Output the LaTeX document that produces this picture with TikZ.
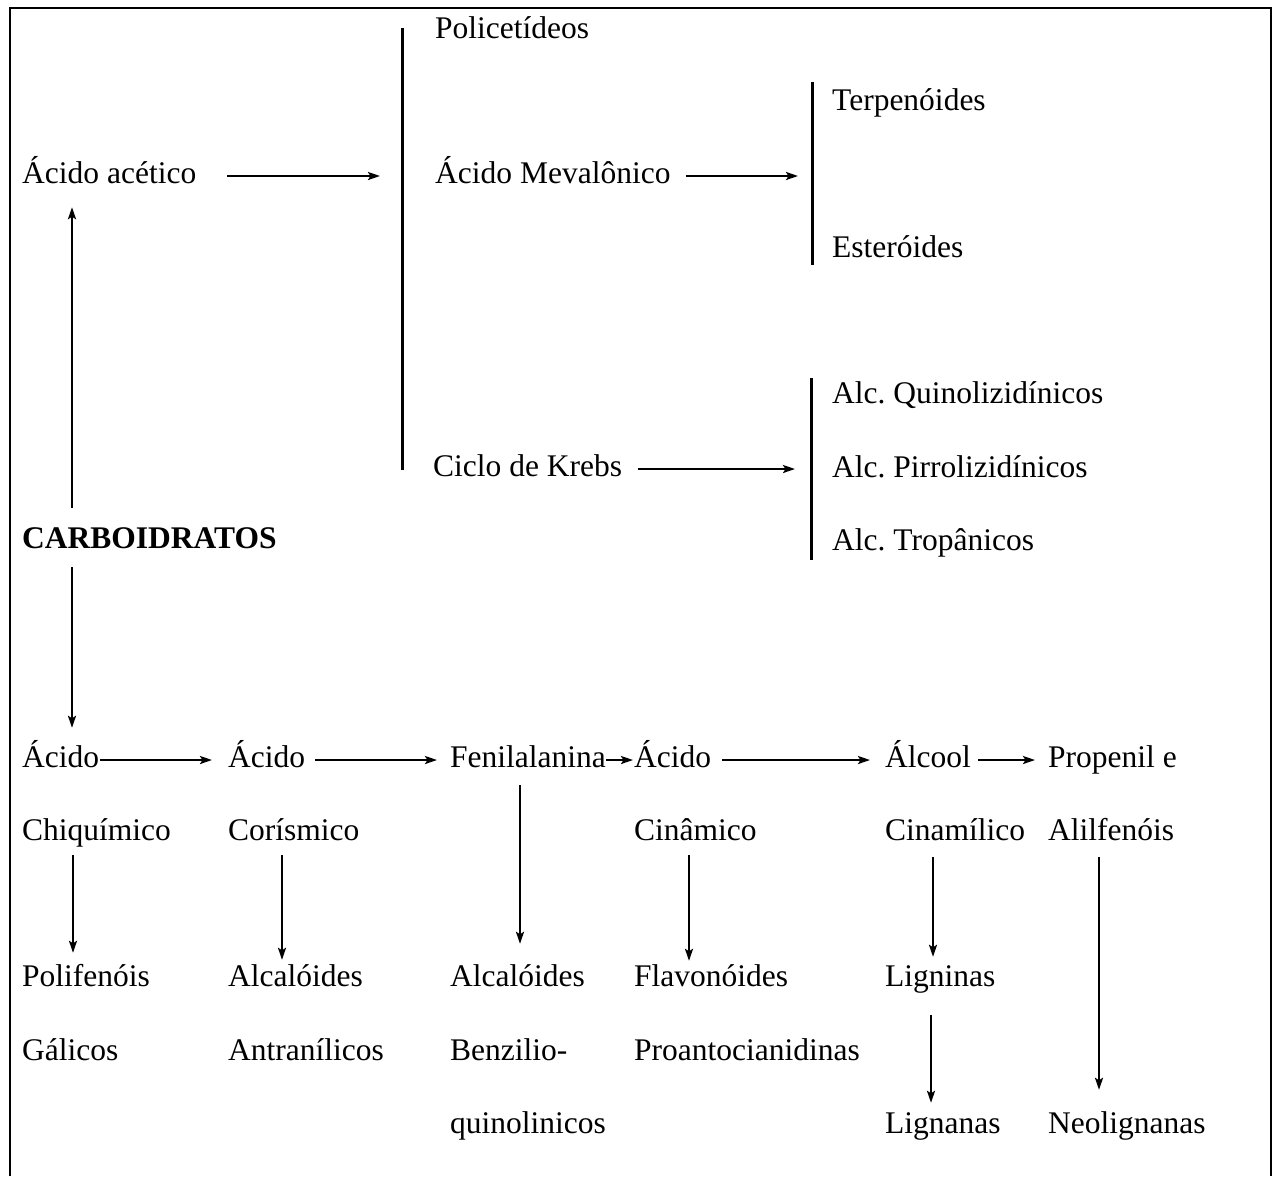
\documentclass[tikz,border=0pt]{standalone}
\usepackage{fontspec}
\setmainfont{Liberation Serif}
\usetikzlibrary{arrows.meta}
\frenchspacing
\begin{document}
\frenchspacing
\begin{tikzpicture}[x=1pt,y=-1pt,
  lbl/.style={anchor=base west, inner sep=0pt, text height=22pt, text depth=8pt, font=\fontsize{31.5}{38}\selectfont},
  arr/.style={line width=2.2pt, -{Stealth[length=12pt,width=8pt,inset=2.5pt]}},
  brk/.style={line width=3pt},
  framestyle/.style={line width=1.5pt}]
\useasboundingbox (0,0) rectangle (1273,1176);
\draw[framestyle] (10,1176) -- (10,8) -- (1271,8) -- (1271,1176);

% top part
\node[lbl] (polic) at (435,38) {Policetídeos};
\node[lbl] (acetico) at (22,183) {Ácido acético};
\node[lbl] (mev) at (435,183) {Ácido Mevalônico};
\node[lbl] (terp) at (832,110) {Terpenóides};
\node[lbl] (ester) at (832,257) {Esteróides};
\node[lbl] (quin) at (832,403) {Alc. Quinolizidínicos};
\node[lbl] (pirr) at (832,477) {Alc. Pirrolizidínicos};
\node[lbl] (trop) at (832,550) {Alc. Tropânicos};
\node[lbl] (krebs) at (433,476) {Ciclo de Krebs};
\node[lbl, font=\fontsize{31.5}{38}\selectfont\bfseries] (carbo) at (22,548) {CARBOIDRATOS};

% brackets
\coordinate (b1t) at (402,28); \coordinate (b1b) at (402,470);
\coordinate (b2t) at (812,82); \coordinate (b2b) at (812,265);
\coordinate (b3t) at (811,378); \coordinate (b3b) at (811,560);
\draw[brk] (b1t) -- (b1b);
\draw[brk] (b2t) -- (b2b);
\draw[brk] (b3t) -- (b3b);

\draw[arr, shorten >=22pt] ([xshift=31pt]acetico.east) -- (acetico.east -| b1t);
\draw[arr, shorten >=14pt] ([xshift=15pt]mev.east) -- (mev.east -| b2t);
\draw[arr, shorten >=16pt] ([xshift=16pt]krebs.east) -- (krebs.east -| b3t);

\draw[arr, shorten <=18pt, shorten >=16pt] ([xshift=50pt]carbo.north west) -- ([xshift=50pt]acetico.south west);

% bottom rows
\node[lbl] (ac1) at (22,767) {Ácido};
\node[lbl] (ac2) at (228,767) {Ácido};
\node[lbl] (fenil) at (450,767) {Fenilalanina};
\node[lbl] (ac3) at (634,767) {Ácido};
\node[lbl] (alc) at (885,767) {Álcool};
\node[lbl] (prop) at (1048,767) {Propenil e};

\node[lbl] (chiq) at (22,840) {Chiquímico};
\node[lbl] (coris) at (228,840) {Corísmico};
\node[lbl] (cina) at (634,840) {Cinâmico};
\node[lbl] (cinam) at (885,840) {Cinamílico};
\node[lbl] (alil) at (1048,840) {Alilfenóis};

\node[lbl] (polif) at (22,986) {Polifenóis};
\node[lbl] (alca1) at (228,986) {Alcalóides};
\node[lbl] (alca2) at (450,986) {Alcalóides};
\node[lbl] (flav) at (634,986) {Flavonóides};
\node[lbl] (lignin) at (885,986) {Ligninas};

\node[lbl] (galic) at (22,1060) {Gálicos};
\node[lbl] (antra) at (228,1060) {Antranílicos};
\node[lbl] (benz) at (450,1060) {Benzilio-};
\node[lbl] (proan) at (634,1060) {Proantocianidinas};

\node[lbl] (quinol) at (450,1133) {quinolinicos};
\node[lbl] (lignan) at (885,1133) {Lignanas};
\node[lbl] (neol) at (1048,1133) {Neolignanas};

\draw[arr, shorten <=11pt, shorten >=17pt] ([xshift=50pt]carbo.south west) -- ([xshift=50pt]ac1.north west);

\draw[arr, shorten <=1pt, shorten >=16pt] (ac1.east) -- (ac2.west);
\draw[arr, shorten <=10pt, shorten >=13pt] (ac2.east) -- (fenil.west);
\draw[arr, shorten <=0pt, shorten >=1pt] (fenil.east) -- (ac3.west);
\draw[arr, shorten <=11pt, shorten >=15pt] (ac3.east) -- (alc.west);
\draw[arr, shorten <=7pt, shorten >=13pt] (alc.east) -- (prop.west);

\draw[arr, shorten <=7pt, shorten >=11pt] ([xshift=51pt]chiq.south west) -- ([xshift=51pt]polif.north west);
\draw[arr, shorten <=7pt, shorten >=4pt] ([xshift=54pt]coris.south west) -- ([xshift=54pt]alca1.north west);
\draw[arr, shorten <=10pt, shorten >=20pt] ([xshift=70pt]fenil.south west) -- ([xshift=70pt]alca2.north west);
\draw[arr, shorten <=7pt, shorten >=3pt] ([xshift=55pt]cina.south west) -- ([xshift=55pt]flav.north west);
\draw[arr, shorten <=9pt, shorten >=7pt] ([xshift=48pt]cinam.south west) -- ([xshift=48pt]lignin.north west);
\draw[arr, shorten <=21pt, shorten >=8pt] ([xshift=46pt]lignin.south west) -- ([xshift=46pt]lignan.north west);
\draw[arr, shorten <=9pt, shorten >=21pt] ([xshift=51pt]alil.south west) -- ([xshift=51pt]neol.north west);
\end{tikzpicture}
\end{document}
